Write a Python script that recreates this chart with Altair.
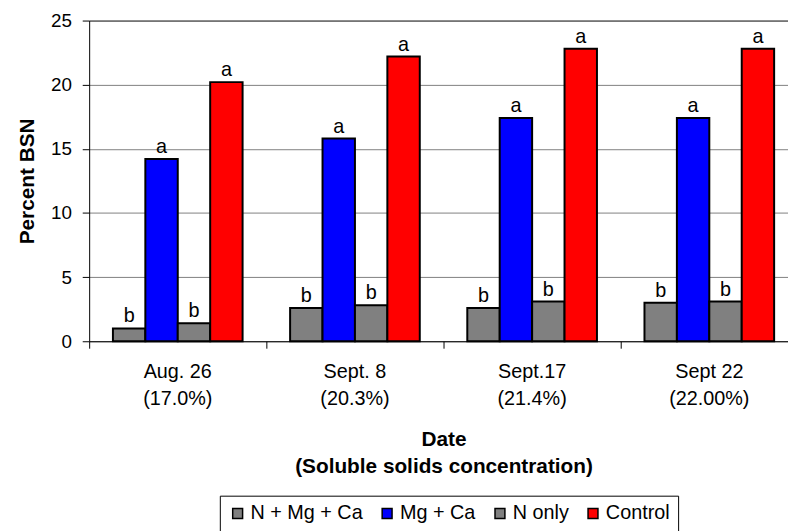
import altair as alt
import pandas as pd

dates = ["Aug. 26\n(17.0%)", "Sept. 8\n (20.3%)", "Sept.17\n(21.4%)", "Sept 22\n(22.00%)"]
treatments = ["N + Mg + Ca", "Mg + Ca", "N only", "Control"]
colors = ["#808080", "#0000FF", "#808080", "#FF0000"]

n_mg_ca = [1.0, 2.6, 2.6, 3.0]
mg_ca = [14.2, 15.8, 17.4, 17.4]
n_only = [1.4, 2.8, 3.1, 3.1]
control = [20.2, 22.2, 22.8, 22.8]

letters_n_mg_ca = ["b", "b", "b", "b"]
letters_mg_ca = ["a", "a", "a", "a"]
letters_n_only = ["b", "b", "b", "b"]
letters_control = ["a", "a", "a", "a"]

series = [n_mg_ca, mg_ca, n_only, control]
letters = [letters_n_mg_ca, letters_mg_ca, letters_n_only, letters_control]

rows = []
for t, vals, lets in zip(treatments, series, letters):
    for d, v, l in zip(dates, vals, lets):
        rows.append({"date": d, "treatment": t, "value": v, "letter": l})
df = pd.DataFrame(rows)

FONT = "Liberation Sans"

x = alt.X(
    "date:N",
    sort=dates,
    scale=alt.Scale(range=[0, 716], paddingInner=0, paddingOuter=0),
    axis=alt.Axis(
        bandPosition=0,
        tickSize=7,
        tickColor="black",
        tickWidth=1,
        ticks=True,
        domainColor="black",
        labelPadding=14,
        labelFontSize=20,
        labelLineHeight=27,
        labelColor="black",
        labelAngle=0,
        labelExpr="split(datum.label, '\\n')",
        labelOverlap=False,
        title=["Date", "(Soluble solids concentration)"],
        titleFontSize=21,
        titleFontWeight="bold",
        titleLineHeight=28,
        titleBaseline="top",
        titleY=88,
        titleColor="black",
        grid=False,
    ),
)
xo = alt.XOffset(
    "treatment:N",
    sort=treatments,
    scale=alt.Scale(paddingInner=0, paddingOuter=0.733),
)
y = alt.Y(
    "value:Q",
    scale=alt.Scale(domain=[0, 25], nice=False),
    axis=alt.Axis(
        values=[0, 5, 10, 15, 20, 25],
        tickSize=7,
        tickColor="black",
        domainColor="black",
        labelPadding=11,
        labelFontSize=19,
        labelColor="black",
        grid=True,
        gridColor={"condition": {"test": "datum.value === 25", "value": "black"}, "value": "#808080"},
        gridWidth=1,
        title="Percent BSN",
        titleFontSize=21,
        titleFontWeight="bold",
        titleColor="black",
        titleX=-62,
        titleY=162,
        titleBaseline="middle",
    ),
)

bars = alt.Chart(df).mark_bar(stroke="black", strokeWidth=2).encode(
    x=x,
    xOffset=xo,
    y=y,
    color=alt.Color(
        "treatment:N",
        sort=treatments,
        scale=alt.Scale(domain=treatments, range=colors),
        legend=alt.Legend(
            orient="none",
            legendX=132,
            legendY=480,
            direction="horizontal",
            title=None,
            symbolType="square",
            symbolSize=100,
            symbolStrokeColor="black",
            symbolStrokeWidth=1.5,
            symbolOpacity=1,
            labelFontSize=20,
            labelColor="black",
            labelOffset=3,
            columnPadding=14,
            padding=8,
            strokeColor="black",
            fillColor="white",
        ),
    ),
)

labels = alt.Chart(df).mark_text(
    baseline="alphabetic", dy=-6, fontSize=20, color="black"
).encode(x=x, xOffset=xo, y=y, text="letter:N")

chart = (
    alt.layer(bars, labels)
    .properties(
        width=706,
        height=324,
        autosize=alt.AutoSizeParams(type="none"),
        padding={"left": 82, "top": 10, "right": 0, "bottom": 189},
    )
    .configure(font=FONT)
    .configure_view(stroke=None)
)

chart.save("out.html", embed_options={"renderer": "svg", "actions": False})
